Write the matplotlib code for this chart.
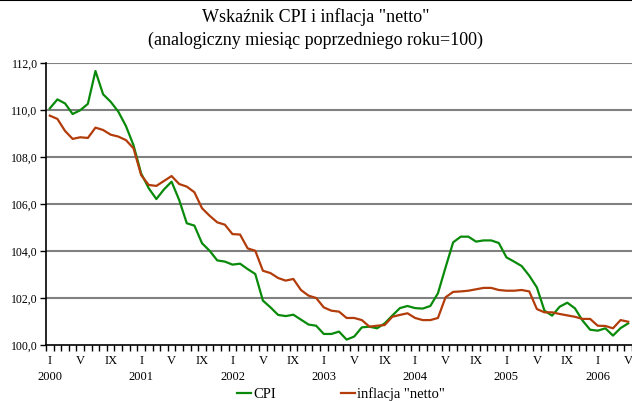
import matplotlib
matplotlib.use("Agg")
import matplotlib.pyplot as plt
import numpy as np

# miesiące I 2000 - V 2006
years = list(range(2000, 2007))
roman = ["I", "II", "III", "IV", "V", "VI", "VII", "VIII", "IX", "X", "XI", "XII"]

cpi = [110.07, 110.45, 110.28, 109.83, 109.99, 110.26, 111.66, 110.67, 110.35, 109.93, 109.32, 108.50,
       107.30, 106.67, 106.21, 106.62, 106.95, 106.17, 105.18, 105.08, 104.33, 104.01, 103.60, 103.55,
       103.42, 103.46, 103.23, 103.02, 101.89, 101.60, 101.28, 101.23, 101.29, 101.08, 100.87, 100.82,
       100.47, 100.47, 100.57, 100.23, 100.36, 100.75, 100.78, 100.71, 100.92, 101.25, 101.57, 101.66,
       101.57, 101.55, 101.66, 102.20, 103.30, 104.37, 104.61, 104.61, 104.40, 104.45, 104.45, 104.34,
       103.73, 103.55, 103.36, 102.95, 102.45, 101.46, 101.25, 101.63, 101.80, 101.56, 101.04, 100.65,
       100.61, 100.71, 100.40, 100.72, 100.92]

netto = [109.76, 109.62, 109.11, 108.77, 108.84, 108.81, 109.25, 109.15, 108.95, 108.87, 108.72, 108.37,
         107.23, 106.81, 106.77, 106.98, 107.19, 106.85, 106.74, 106.50, 105.82, 105.50, 105.22, 105.12,
         104.72, 104.70, 104.11, 104.01, 103.16, 103.06, 102.85, 102.74, 102.81, 102.34, 102.10, 102.00,
         101.60, 101.46, 101.42, 101.15, 101.15, 101.06, 100.78, 100.82, 100.85, 101.20, 101.28, 101.35,
         101.15, 101.06, 101.06, 101.15, 102.03, 102.26, 102.28, 102.31, 102.37, 102.43, 102.43, 102.34,
         102.31, 102.31, 102.34, 102.28, 101.53, 101.39, 101.39, 101.32, 101.26, 101.20, 101.11, 101.11,
         100.82, 100.81, 100.71, 101.06, 100.99]

n = len(cpi)
x = np.arange(n)

plt.rcParams['font.family'] = ['Liberation Serif', 'DejaVu Serif']

fig = plt.figure(figsize=(6.32, 4.01), dpi=100)
ax = fig.add_axes([46 / 632, 1 - 345 / 401, 1 - 46 / 632, (345 - 63) / 401])

ax.plot(x, cpi, color='#0a8a0a', lw=1.6, label='CPI')
ax.plot(x, netto, color='#b23c0a', lw=1.6, label='inflacja "netto"')

ax.set_xlim(-0.5, n - 0.5)
ax.set_ylim(100, 112)
yt = np.arange(100, 112.1, 2)
ax.set_yticks(yt)
ax.set_yticklabels([f"{v:.1f}".replace('.', ',') for v in yt], fontsize=8.5)
for v in yt[1:]:
    ax.axhline(v, color='#808080', lw=1.5, zorder=0)

# kreski między miesiącami, etykiety I, V, IX pod miesiącami
ax.set_xticks(np.arange(-0.5, n, 1))
ax.set_xticklabels([])
ax.tick_params(axis='x', which='major', length=4, width=1, direction='out')
lab_pos, lab_txt = [], []
for i in range(n):
    m = i % 12
    if m in (0, 4, 8):
        lab_pos.append(i)
        lab_txt.append(roman[m] + ("\n" + str(years[i // 12]) if m == 0 else ""))
ax.set_xticks(lab_pos, minor=True)
ax.set_xticklabels(lab_txt, minor=True, fontsize=9, linespacing=1.5, va='top')
ax.tick_params(axis='x', which='minor', length=0, pad=7)
ax.tick_params(axis='y', length=4, width=1, pad=2)

for s in ['top', 'right']:
    ax.spines[s].set_visible(False)
ax.spines['left'].set_linewidth(1.2)
ax.spines['bottom'].set_linewidth(1.2)

fig.text(0.5, 1 - 17 / 401, 'Wskaźnik CPI i inflacja "netto"', ha='center', va='center', fontsize=13)
fig.text(0.5, 1 - 40 / 401, '(analogiczny miesiąc poprzedniego roku=100)', ha='center', va='center', fontsize=13)

fig.legend(loc='center', bbox_to_anchor=(341 / 632, 1 - 394 / 401), ncol=2, frameon=False,
           fontsize=10.5, handlelength=1.0, handletextpad=0.15, columnspacing=4.4,
           borderpad=0.1)

fig.add_artist(plt.Line2D([0, 1], [0.999, 0.999], color='black', lw=1.5, transform=fig.transFigure))

fig.savefig('out.png', dpi=100)
